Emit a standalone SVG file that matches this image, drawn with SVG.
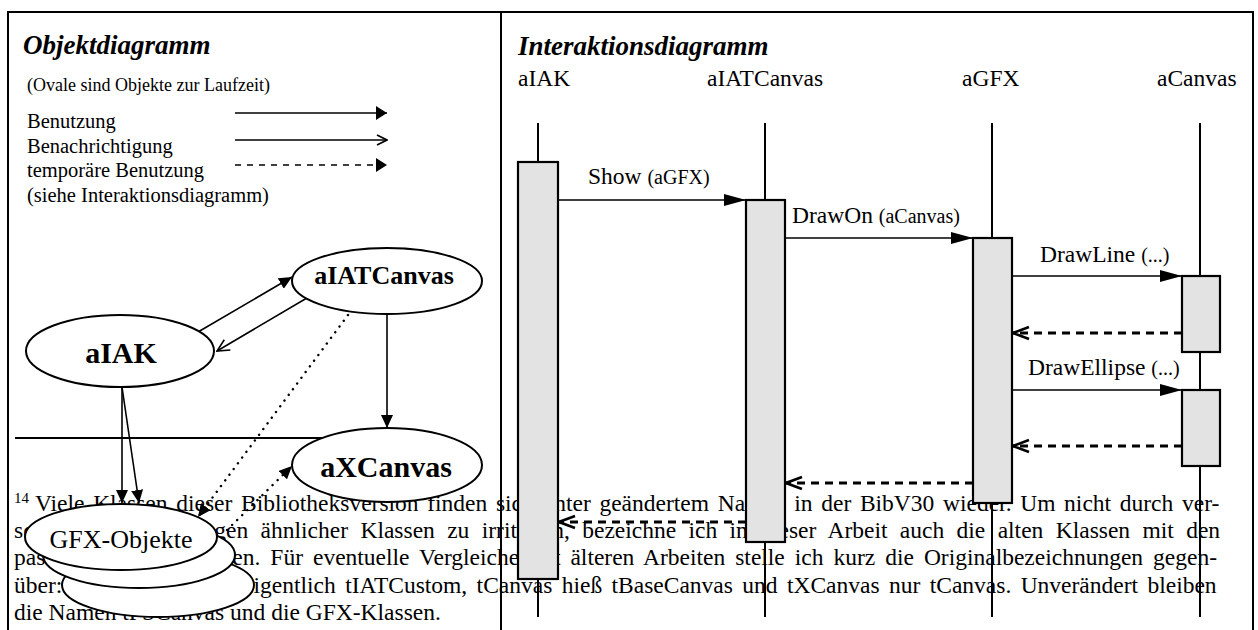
<svg xmlns="http://www.w3.org/2000/svg" width="1258" height="630" viewBox="0 0 1258 630">
<defs>
<style>
text{font-family:"Liberation Serif","Times New Roman",serif;fill:#000}
.fn{font-size:23.5px}
.lg{font-size:20.5px}
.title{font-size:27px;font-weight:bold;font-style:italic}
.obj{font-weight:bold;text-anchor:middle}
.lbl{font-size:23.5px}
.par{font-size:20px}
.ln{stroke:#000;stroke-width:1.6;fill:none}
.dash{stroke-dasharray:6 6}
.dot{stroke-dasharray:0.1 7;stroke-linecap:round;stroke-width:2.4}
.ell{fill:#fff;stroke:#000;stroke-width:2}
.act{fill:#e3e3e3;stroke:#000;stroke-width:2.2}
.life{stroke:#000;stroke-width:2}
.msg{stroke:#000;stroke-width:1.7;fill:none}
.ret{stroke:#000;stroke-width:2.8;fill:none;stroke-dasharray:8 6}
.frame{stroke:#000;stroke-width:2;fill:none}
</style>
<marker id="mF" markerUnits="userSpaceOnUse" markerWidth="22" markerHeight="12" refX="22" refY="6" orient="auto"><path d="M0,0 L22,6 L0,12 z" fill="#000"/></marker>
<marker id="mO" markerUnits="userSpaceOnUse" markerWidth="19" markerHeight="16" refX="17" refY="8" orient="auto"><path d="M1,2 L17,8 L1,14" fill="none" stroke="#000" stroke-width="2.6"/></marker>
<marker id="oF" markerUnits="userSpaceOnUse" markerWidth="13" markerHeight="12" refX="13" refY="6" orient="auto"><path d="M0,0 L13,6 L0,12 z" fill="#000"/></marker>
<marker id="oO" markerUnits="userSpaceOnUse" markerWidth="14" markerHeight="14" refX="13" refY="7" orient="auto"><path d="M1,1 L13,7 L1,13" fill="none" stroke="#000" stroke-width="1.6"/></marker>
<marker id="lF" markerUnits="userSpaceOnUse" markerWidth="11" markerHeight="14" refX="11" refY="7" orient="auto"><path d="M0,0 L11,7 L0,14 z" fill="#000"/></marker>
<marker id="lO" markerUnits="userSpaceOnUse" markerWidth="12" markerHeight="12" refX="11" refY="6" orient="auto"><path d="M1,1 L11,6 L1,11" fill="none" stroke="#000" stroke-width="1.6"/></marker>
</defs>
<rect x="0" y="0" width="1258" height="630" fill="#fff"/>

<g id="footnote">
<text class="fn" x="14" y="503" style="font-size:15px">14</text>
<text class="fn" x="35" y="511" word-spacing="2.8">Viele Klassen dieser Bibliotheksversion finden sich unter geändertem Namen in der BibV30 wieder. Um nicht durch ver-</text>
<text class="fn" x="14" y="538" word-spacing="6.5">schiedene Benennungen ähnlicher Klassen zu irritieren, bezeichne ich in dieser Arbeit auch die alten Klassen mit den</text>
<text class="fn" x="14" y="565" word-spacing="4.1">passenden neuen Namen. Für eventuelle Vergleiche mit älteren Arbeiten stelle ich kurz die Originalbezeichnungen gegen-</text>
<text class="fn" x="14" y="593" word-spacing="3.5">über: tIATCanvas hieß eigentlich tIATCustom, tCanvas hieß tBaseCanvas und tXCanvas nur tCanvas. Unverändert bleiben</text>
<text class="fn" x="14" y="620">die Namen tPSCanvas und die GFX-Klassen.</text>
<line x1="15" y1="438" x2="397" y2="438" stroke="#000" stroke-width="2"/>
</g>

<g id="frame">
<path class="frame" d="M8,630 V12 H1253 V630 M501,12 V630"/>
</g>

<g id="legend">
<text class="title" x="23" y="54">Objektdiagramm</text>
<text x="27" y="91" style="font-size:18px">(Ovale sind Objekte zur Laufzeit)</text>
<text class="lg" x="27" y="128">Benutzung</text>
<text class="lg" x="27" y="153">Benachrichtigung</text>
<text class="lg" x="27" y="177">temporäre Benutzung</text>
<text class="lg" x="27" y="202">(siehe Interaktionsdiagramm)</text>
<line class="ln" x1="235" y1="113" x2="387" y2="113" marker-end="url(#lF)"/>
<line class="ln" x1="235" y1="140" x2="387" y2="140" marker-end="url(#lO)"/>
<line class="ln dash" x1="235" y1="165" x2="387" y2="165" marker-end="url(#lF)"/>
</g>

<g id="obj-connectors">
<line class="ln" x1="198" y1="332" x2="292" y2="277" marker-end="url(#oF)"/>
<line class="ln" x1="312" y1="295" x2="217" y2="351" marker-end="url(#oO)"/>
<line class="ln" x1="387" y1="314" x2="387" y2="428" marker-end="url(#oF)"/>
<line class="ln" x1="122" y1="387" x2="122" y2="503" marker-end="url(#oF)"/>
<line class="ln" x1="122" y1="387" x2="139" y2="503" marker-end="url(#oF)"/>
<line class="ln dot" x1="348" y1="315" x2="198" y2="517" marker-end="url(#oF)"/>
<line class="ln dot" x1="227" y1="530" x2="292" y2="466" marker-end="url(#oF)"/>
</g>

<g id="node-aIATCanvas">
<ellipse class="ell" cx="387" cy="281" rx="95" ry="33"/>
<text class="obj" x="384" y="284" style="font-size:26px">aIATCanvas</text>
</g>
<g id="node-aIAK">
<ellipse class="ell" cx="120" cy="351" rx="94" ry="36"/>
<text class="obj" x="121" y="363" style="font-size:30px">aIAK</text>
</g>
<g id="node-aXCanvas">
<ellipse class="ell" cx="387" cy="465" rx="95" ry="37"/>
<text class="obj" x="386" y="477" style="font-size:30px">aXCanvas</text>
</g>
<g id="node-GFX">
<ellipse class="ell" cx="158" cy="585" rx="96" ry="32"/>
<ellipse class="ell" cx="139" cy="555" rx="96" ry="33"/>
<ellipse class="ell" cx="121" cy="537" rx="96" ry="33"/>
<text x="121" y="548" style="font-size:26px;text-anchor:middle">GFX-Objekte</text>
</g>

<g id="seq-title">
<text class="title" x="518" y="55">Interaktionsdiagramm</text>
</g>
<g id="lifeline-aIAK">
<text class="lbl" x="518" y="86">aIAK</text>
<line class="life" x1="538" y1="123" x2="538" y2="617"/>
<rect class="act" x="518" y="162" width="40" height="417"/>
</g>
<g id="lifeline-aIATCanvas">
<text class="lbl" x="707" y="86">aIATCanvas</text>
<line class="life" x1="765" y1="123" x2="765" y2="617"/>
<rect class="act" x="746" y="200" width="39" height="342"/>
</g>
<g id="lifeline-aGFX">
<text class="lbl" x="962" y="86">aGFX</text>
<line class="life" x1="992" y1="123" x2="992" y2="617"/>
<rect class="act" x="973" y="238" width="39" height="265"/>
</g>
<g id="lifeline-aCanvas">
<text class="lbl" x="1157" y="86">aCanvas</text>
<line class="life" x1="1200" y1="123" x2="1200" y2="617"/>
<rect class="act" x="1182" y="276" width="38" height="76"/>
<rect class="act" x="1182" y="390" width="38" height="76"/>
</g>

<g id="messages">
<line class="msg" x1="558" y1="200" x2="746" y2="200" marker-end="url(#mF)"/>
<line class="msg" x1="785" y1="238" x2="973" y2="238" marker-end="url(#mF)"/>
<line class="msg" x1="1012" y1="276" x2="1182" y2="276" marker-end="url(#mF)"/>
<line class="ret" x1="1182" y1="333" x2="1013" y2="333" marker-end="url(#mO)"/>
<line class="msg" x1="1012" y1="390" x2="1182" y2="390" marker-end="url(#mF)"/>
<line class="ret" x1="1182" y1="446" x2="1013" y2="446" marker-end="url(#mO)"/>
<line class="ret" x1="973" y1="483" x2="786" y2="483" marker-end="url(#mO)"/>
<line class="ret" x1="746" y1="522" x2="559" y2="522" marker-end="url(#mO)"/>
<text class="lbl" x="588" y="184">Show <tspan class="par">(aGFX)</tspan></text>
<text class="lbl" x="792" y="223">DrawOn <tspan class="par">(aCanvas)</tspan></text>
<text class="lbl" x="1040" y="262">DrawLine <tspan class="par">(...)</tspan></text>
<text class="lbl" x="1028" y="375">DrawEllipse <tspan class="par">(...)</tspan></text>
</g>
</svg>
